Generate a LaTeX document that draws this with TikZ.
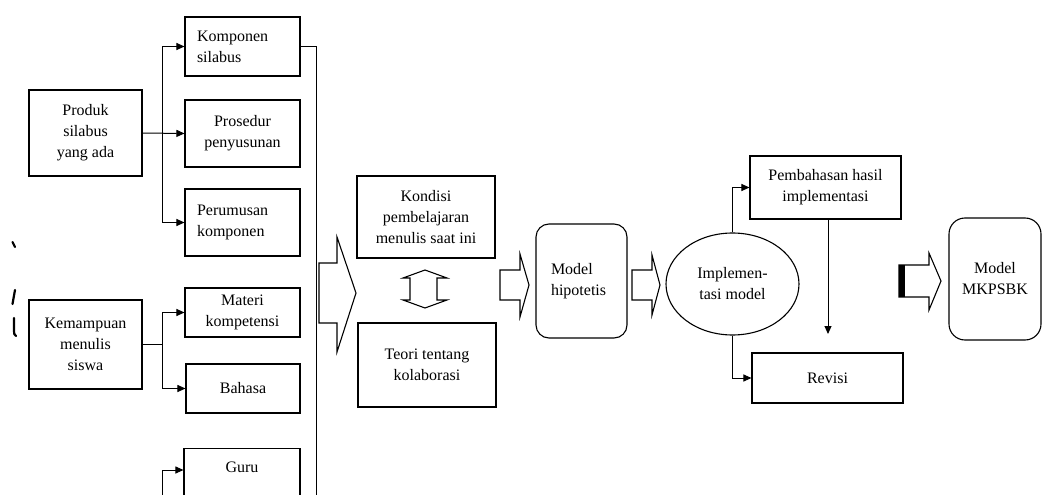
\documentclass[tikz,border=0pt]{standalone}
\usepackage{fontspec}
\setmainfont{Liberation Serif}
\usetikzlibrary{arrows.meta,shapes.geometric}

\begin{document}
\begin{tikzpicture}[x=1pt,y=-1pt,
  box/.style={draw, line width=1.1pt, inner sep=0pt,
    font=\fontsize{16}{21}\selectfont, align=center},
  rbox/.style={box, rounded corners=13pt},
  txt/.style={inner sep=0pt, font=\fontsize{16}{21}\selectfont, align=center},
  link/.style={line width=1pt},
  tip/.style={link, -{Triangle[length=8pt,width=7pt]}},
  hollow/.style={draw, line width=1.1pt, fill=white, line join=miter},
  stroke/.style={line width=2.2pt, line cap=round}]

\useasboundingbox (0,0) rectangle (1042,495);
\clip (0,0) rectangle (1042,495);
\fill[white] (0,0) rectangle (1042,495);

% left column: sources
\node[box, minimum width=113pt, minimum height=86pt] (prod) at (85.5,133) {Produk\\silabus\\yang ada};
\node[box, minimum width=113pt, minimum height=89pt] (kemam) at (85.5,344.5) {Kemampuan\\menulis\\siswa};

% second column: aspects
\node[box, minimum width=115pt, minimum height=59pt, text width=91pt, align=left] (komp) at (242.5,46.5) {Komponen\\silabus};
\node[box, minimum width=115pt, minimum height=67pt] (pros) at (242.5,133.5) {Prosedur\\penyusunan};
\node[box, minimum width=115pt, minimum height=67pt, text width=91pt, align=left] (perum) at (242.5,222.5) {Perumusan\\komponen};
\node[box, minimum width=115pt, minimum height=49pt] (materi) at (242.5,312.5) {Materi\\kompetensi};
\node[box, minimum width=114pt, minimum height=49pt] (bahasa) at (243,388.5) {Bahasa};
\node[box, minimum width=116pt, minimum height=90pt, anchor=north] (guru) at (242,448) {};
\node[txt] (gurulbl) at (242,467) {Guru};

% branching connectors
\coordinate (b1) at (162,133);
\draw[tip] (prod.east) -- (pros.west);
\draw[tip] (b1) |- (komp.west);
\draw[tip] (b1) |- (perum.west);

\coordinate (b2) at (162,344.5);
\draw[link] (kemam.east) -- (b2);
\draw[tip] (b2) |- (materi.west);
\draw[tip] (b2) |- (bahasa.west);

\coordinate (b3) at (162,510);
\draw[tip] (b3) |- ([yshift=-22pt]guru.north west);

% collecting line
\coordinate (c) at (316,510);
\draw[link] (komp.east) -| (c);

% large block arrow
\draw[hollow] (319,263) -- (337,263) -- (337,237) -- (356,293) -- (337,352) -- (337,323) -- (319,323) -- cycle;

% middle: conditions and theory
\node[box, minimum width=138pt, minimum height=82pt] (kond) at (426,217) {Kondisi\\pembelajaran\\menulis saat ini};
\node[box, minimum width=138pt, minimum height=84pt] (teori) at (427,365) {Teori tentang\\kolaborasi};

% double-headed block arrow
\draw[hollow] (425,270) -- (447,278) -- (437,278) -- (437,300) -- (447,300) -- (425,308)
  -- (403,300) -- (410,300) -- (410,278) -- (403,278) -- cycle;

% arrow into the hypothetical model
\draw[hollow] (500,270) -- (520,270) -- (520,254) -- (529,285) -- (520,317) -- (520,300) -- (500,300) -- cycle;

\node[rbox, minimum width=91pt, minimum height=114pt, text width=61pt, align=left] (hipo) at (581.5,281) {Model\\hipotetis};

% arrow into implementation
\draw[hollow] (632,270) -- (652,270) -- (652,255) -- (660,285) -- (652,315) -- (652,300) -- (632,300) -- cycle;

\node[box, ellipse, minimum width=133pt, minimum height=102pt] (impl) at (732.5,284) {Implemen-\\tasi model};
\node[box, minimum width=151pt, minimum height=63pt] (bahas) at (825.5,187.5) {Pembahasan hasil\\implementasi};
\node[box, minimum width=151pt, minimum height=50pt] (revisi) at (827.5,378) {Revisi};

\draw[tip] (impl.north) |- (bahas.west);
\draw[tip] (impl.south) |- (revisi.west);
\coordinate (vend) at (828,334);
\draw[tip] ([xshift=2.5pt]bahas.south) -- (vend);

% final arrow with solid tail
\draw[hollow] (899,265) -- (929,265) -- (929,253) -- (941,281) -- (929,310) -- (929,297) -- (899,297) -- cycle;
\fill (899,265) rectangle (905,297);

\node[rbox, rounded corners=16pt, minimum width=92pt, minimum height=122pt] (mkp) at (995,279) {Model\\MKPSBK};

% clipped glyph fragments at the left edge
\draw[stroke] (12.5,242) -- (15,247);
\draw[stroke] (15,290) -- (12.5,304);
\draw[stroke] (14,318) -- (14,331) .. controls (14,334) .. (16,336);
\end{tikzpicture}
\end{document}
